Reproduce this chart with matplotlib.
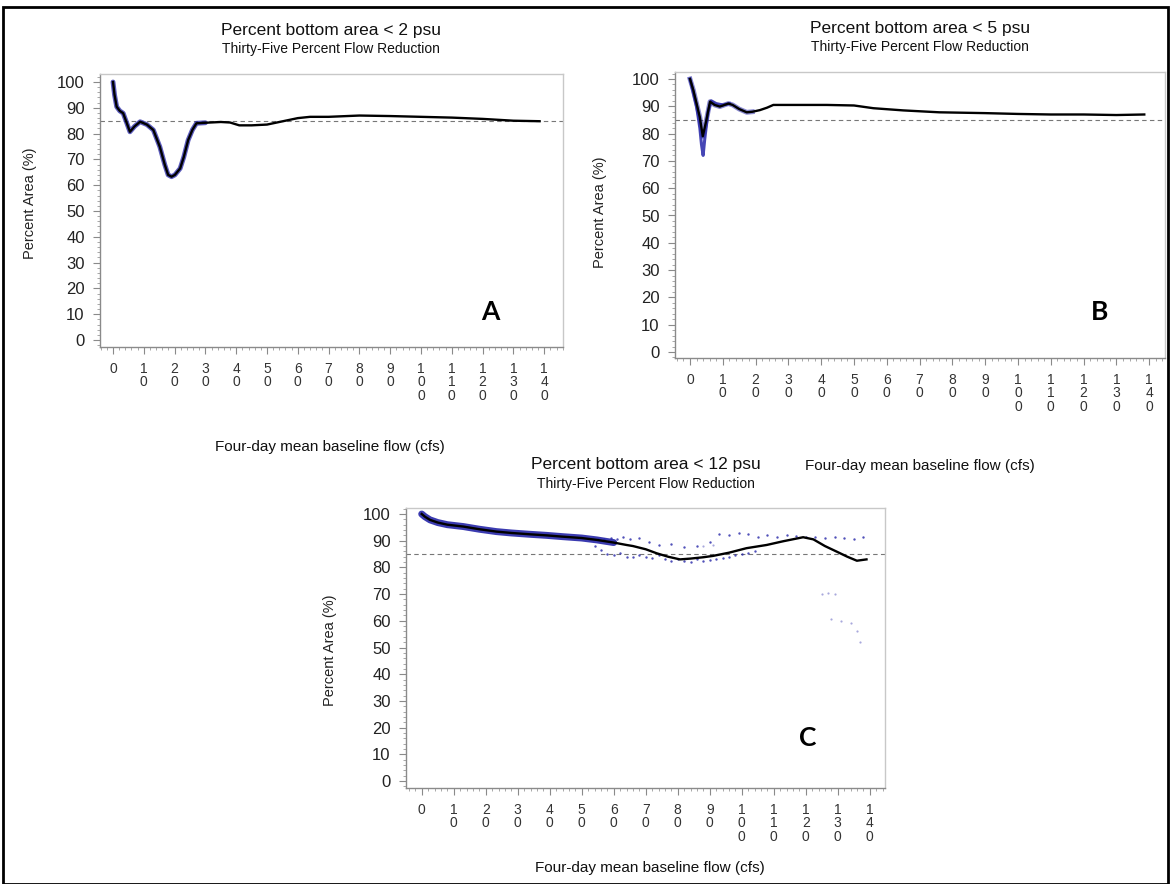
import matplotlib
matplotlib.use('Agg')
import matplotlib.pyplot as plt
from matplotlib.patches import Rectangle
from matplotlib.ticker import MultipleLocator, FixedLocator, FixedFormatter

plt.rcParams['font.family'] = ['Liberation Sans', 'DejaVu Sans']

# ---- data ----
x_ticks = [0, 10, 20, 30, 40, 50, 60, 70, 80, 90, 100, 110, 120, 130, 140]
y_ticks = [0, 10, 20, 30, 40, 50, 60, 70, 80, 90, 100]
target_pct = 85

# panel A: < 2 psu
flow_a = [0, 0.5, 1.2, 2.2, 3.3, 4.5, 5.5, 7, 8.8, 11, 13.1, 15.2, 16.8, 17.9, 19, 20.1,
          21.8, 23, 24.4, 25.8, 27.1, 30, 35, 38, 41, 45, 50, 56, 60, 64, 70, 80, 90,
          100, 110, 120, 130, 138.5]
area_a = [100, 95, 90.4, 88.8, 87.9, 84, 80.7, 82.8, 84.6, 83.5, 81.4, 74.9, 68, 64, 63.3, 64,
          66.5, 71, 77.5, 81.5, 84, 84.2, 84.5, 84.3, 83.2, 83.2, 83.5, 85, 86, 86.5, 86.5, 87, 86.8,
          86.5, 86.2, 85.7, 85, 84.8]

# panel B: < 5 psu
flow_b = [0, 1, 2, 3, 3.9, 5, 6.1, 7.5, 9.1, 10.5, 11.7, 13, 15, 17.3, 19, 21.3, 23.5, 25.4,
          30, 41.7, 50, 55.9, 65, 76, 90, 100, 110, 120, 130, 138.5]
area_b = [100, 96, 91, 86, 79, 85, 91.7, 90.5, 89.9, 90.5, 91, 90.5, 89, 87.8, 88, 88.6, 89.5, 90.5,
          90.5, 90.5, 90.3, 89.3, 88.5, 87.8, 87.5, 87.2, 87, 87, 86.8, 87]
obs_flow_b = [0, 1, 2, 3, 3.5, 4, 4.5, 5.5, 6.5, 8, 10, 12]
obs_area_b = [100, 95, 90, 82, 76, 72, 78, 88, 92, 91, 90.5, 91]

# panel C: < 12 psu
flow_c = [0, 1, 2.6, 5, 8, 13, 18, 23.4, 28, 33.8, 39, 44.2, 50, 54.7, 60, 64, 66, 70, 73.4,
          77, 80.7, 84, 88, 91, 96, 101.5, 107.8, 113, 119.2, 122.4, 126, 129.7, 133, 136, 139]
area_c = [100, 99, 97.8, 96.8, 96, 95.3, 94.3, 93.4, 92.9, 92.4, 92, 91.5, 91, 90.3, 89.3, 88.4,
          88, 86.8, 85.3, 84, 83, 83.3, 83.8, 84.3, 85.5, 87.2, 88.4, 89.8, 91.3, 90.5, 88, 85.9,
          84, 82.5, 83]
hi_flow_c = [55, 57, 59, 61, 63, 65, 68, 71, 74, 78, 82, 86, 90, 93, 96, 99, 102, 105, 108, 111,
             114, 117, 120, 123, 126, 129, 132, 135, 138]
hi_area_c = [90.5, 90.8, 91, 90.6, 91.2, 90.8, 91, 89.5, 88.5, 88.8, 87.5, 88.2, 89.5, 92.5, 92,
             93, 92.5, 91.5, 92, 91.5, 92, 91.8, 91.5, 91.2, 91, 91.5, 91, 90.8, 91.2]
lo_flow_c = [54, 56, 58, 60, 62, 64, 66, 68, 70, 72, 74, 76, 78, 80, 82, 84, 86, 88, 90, 92, 94,
             96, 98, 100, 102, 104]
lo_area_c = [88, 86.5, 85, 84.5, 85.5, 84, 83.8, 84.5, 84, 83.5, 84.5, 83, 82.5, 83, 82.5, 82, 83,
             82.5, 82.8, 83, 83.5, 84, 84.5, 85, 85.5, 86]
out_flow_c = [125, 127, 129, 128, 131, 134, 136, 137, 88, 91]
out_area_c = [70, 70.5, 70, 60.5, 60, 59, 56, 52, 88, 88.5]

W, H = 1170, 884
BLUE = '#2626a8'


def px(x, y):
    """ pixel position (from top left) -> figure fraction """
    return x / W, 1 - y / H


def make_axes(fig, left, top, right, bottom, x0_px, xscale, y0_px, yscale):
    """ axes from frame pixels; x0_px/y0_px are where value 0 sits """
    ax = fig.add_axes([left / W, 1 - bottom / H, (right - left) / W, (bottom - top) / H])
    ax.set_xlim((left - x0_px) / xscale, (right - x0_px) / xscale)
    ax.set_ylim((y0_px - bottom) / yscale, (y0_px - top) / yscale)
    for side in ['top', 'right']:
        ax.spines[side].set_color('#c8c8c8')
    for side in ['left', 'bottom']:
        ax.spines[side].set_color('#8a8a8a')
    for sp in ax.spines.values():
        sp.set_linewidth(1.0)
    ax.xaxis.set_major_locator(FixedLocator(x_ticks))
    ax.xaxis.set_major_formatter(FixedFormatter(['\n'.join(str(t)) for t in x_ticks]))
    ax.xaxis.set_minor_locator(MultipleLocator(2))
    ax.yaxis.set_major_locator(FixedLocator(y_ticks))
    ax.yaxis.set_minor_locator(MultipleLocator(2))
    ax.tick_params(which='major', length=5, color='#8a8a8a', labelsize=10, pad=6)
    ax.tick_params(which='minor', length=2.5, color='#9a9a9a')
    for lab in ax.get_xticklabels():
        lab.set_linespacing(0.92)
        lab.set_fontsize(10)
        lab.set_color('#333333')
    for lab in ax.get_yticklabels():
        lab.set_fontsize(12)
        lab.set_color('#222222')
    ax.axhline(target_pct, color='#777777', lw=0.8, ls=(0, (4, 3)), zorder=1)
    return ax


def titles(fig, cx, ty, title):
    fig.text(*px(cx, ty), title, ha='center', va='center', fontsize=12.5, color='#111111')
    fig.text(*px(cx, ty + 19), 'Thirty-Five Percent Flow Reduction', ha='center', va='center',
             fontsize=10, color='#111111')


def labels(fig, yl_x, yl_y, xl_x, xl_y):
    fig.text(*px(yl_x, yl_y), 'Percent Area (%)', rotation=90, ha='center', va='center',
             fontsize=10.5, color='#222222')
    fig.text(*px(xl_x, xl_y), 'Four-day mean baseline flow (cfs)', ha='center', va='center',
             fontsize=11, color='#111111')


fig = plt.figure(figsize=(W / 100, H / 100), dpi=100)

# ---- A ----
ax = make_axes(fig, 100, 74, 563, 347, 113, 3.08, 340, 2.58)
n = sum(1 for f in flow_a if f <= 30)
ax.plot(flow_a[:n], area_a[:n], color=BLUE, lw=3.5, alpha=0.75, solid_capstyle='round')
ax.plot(flow_a, area_a, color='black', lw=1.7)
titles(fig, 331, 30, 'Percent bottom area < 2 psu')
labels(fig, 30, 203, 330, 447)
fig.text(*px(490, 312), 'A', ha='center', va='center', fontsize=19, fontweight='bold', family='Lato')

# ---- B ----
ax = make_axes(fig, 675, 72, 1165, 358, 690, 3.28, 352, 2.73)
ax.plot(obs_flow_b, obs_area_b, color=BLUE, lw=2.2, alpha=0.85)
n = sum(1 for f in flow_b if f <= 20)
ax.plot(flow_b[:n], area_b[:n], color=BLUE, lw=3.5, alpha=0.55)
ax.plot(flow_b, area_b, color='black', lw=1.7)
titles(fig, 920, 28, 'Percent bottom area < 5 psu')
labels(fig, 600, 212, 920, 466)
fig.text(*px(1100, 312), 'B', ha='center', va='center', fontsize=19, fontweight='bold', family='Lato')

# ---- C ----
ax = make_axes(fig, 406, 508, 885, 788, 421.7, 3.2, 781, 2.67)
n = sum(1 for f in flow_c if f <= 62)
ax.plot(flow_c[:n], area_c[:n], color=BLUE, lw=5, alpha=0.9, solid_capstyle='round')
ax.scatter(hi_flow_c, hi_area_c, s=3, color=BLUE, alpha=0.8, lw=0)
ax.scatter(lo_flow_c, lo_area_c, s=3, color=BLUE, alpha=0.8, lw=0)
ax.scatter(out_flow_c, out_area_c, s=2.5, color=BLUE, alpha=0.4, lw=0)
ax.plot(flow_c, area_c, color='black', lw=1.7)
titles(fig, 646, 465, 'Percent bottom area < 12 psu')
labels(fig, 330, 650, 650, 868)
fig.text(*px(808, 738), 'C', ha='center', va='center', fontsize=19, fontweight='bold', family='Lato')

# outer border
fig.add_artist(Rectangle((3 / W, 0.5 / H), (W - 5) / W, (H - 7) / H, transform=fig.transFigure,
                         fill=False, edgecolor='black', lw=2))

fig.savefig('out.png', dpi=100)
print('TASK COMPLETED')
